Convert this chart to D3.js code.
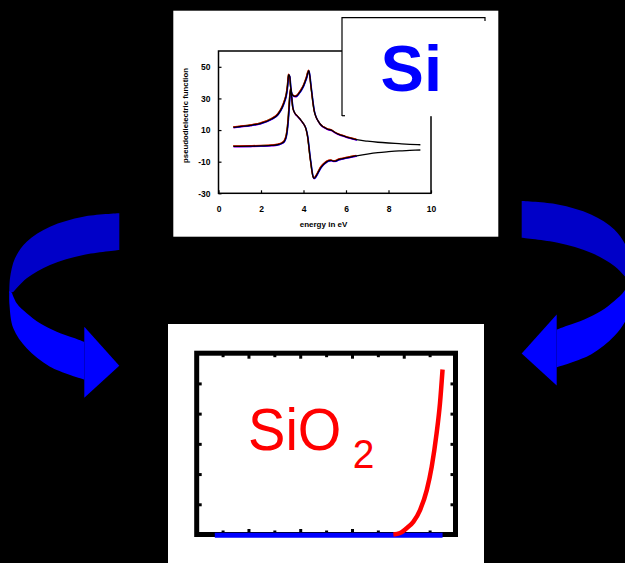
<!DOCTYPE html>
<html>
<head>
<meta charset="utf-8">
<script src="https://cdn.jsdelivr.net/npm/d3@7"></script>
<style>
  html, body { margin: 0; padding: 0; background: #000; }
  svg { display: block; }
  text { font-family: Arial, "Liberation Sans", sans-serif; }
</style>
</head>
<body>
<div id="chart"></div>
<script>
// ---- Si pseudodielectric function (top chart) ----
const energy = [0.7, 1.0, 1.5, 2.0, 2.5, 2.8, 3.0, 3.1, 3.2, 3.25, 3.3, 3.35, 3.4, 3.45, 3.5,
  3.6, 3.7, 3.8, 3.9, 4.0, 4.1, 4.15, 4.2, 4.25, 4.3, 4.35, 4.4, 4.45, 4.5, 4.6, 4.7, 4.8,
  4.9, 5.0, 5.1, 5.2, 5.3, 5.4, 5.5, 5.6, 5.8, 6.0, 6.25, 6.5, 7.0, 7.5, 8.0, 8.5, 9.0, 9.5];
const upperCurve = [11.7, 12.2, 13.0, 14.3, 17.0, 20.0, 24.5, 28, 33, 38, 45, 44, 37, 33, 32,
  31.3, 31.8, 33.5, 35.5, 38, 41.5, 43.5, 46, 47.5, 44, 38, 32.5, 27, 22.5, 18, 15.5, 13.5,
  12.3, 11.5, 10.8, 10.3, 10.0, 9.2, 8.3, 7.6, 6.6, 5.7, 4.8, 3.9, 3.0, 2.3, 1.8, 1.4, 1.0, 0.7];
const lowerCurve = [-0.3, -0.3, -0.2, 0, 0.3, 0.8, 1.8, 3, 7, 12, 20, 30, 36, 30, 24,
  20.5, 19, 17.5, 15.8, 14, 11.5, 9, 5.5, 0, -6, -11, -16, -19.5, -20.5, -19, -16.5, -14,
  -12.3, -11, -10, -9.4, -9.2, -9.6, -9.6, -9.0, -8.2, -7.6, -6.9, -6.3, -5.2, -4.3, -3.7, -3.2, -2.9, -2.6];
const siTicksX = [0, 2, 4, 6, 8, 10];
const siTicksY = [-30, -10, 10, 30, 50];
// measured traces lying under the black fit, only up to 6.5 eV
const traceColors = ['#ff00ff', '#00a000', '#0000ff', '#ff0000'];
const traceMaxEnergy = 6.5;

// ---- SiO2 (bottom chart) ----
const oxideEnergy = [7.6, 7.86, 8.1, 8.37, 8.63, 8.89, 9.08, 9.27, 9.4, 9.5];
const oxideValues = [0, 0.05, 0.2, 0.42, 0.81, 1.47, 2.24, 3.35, 4.34, 5.46];
const baseEnergy = [0.7, 9.5];
const baseValues = [0, 0];
const oxideMajorTicks = [2, 4, 6, 8];
const oxideMinorTicks = [1, 3, 5, 7, 9];
const oxideTicksY = [1, 2, 3, 4, 5];

const width = 625;
const height = 563;

const svg = d3.select('#chart')
    .append('svg')
    .attr('width', width)
    .attr('height', height);

svg.append('rect')
    .attr('width', width)
    .attr('height', height)
    .attr('fill', '#000');

// ---------- curved arrows ----------
const edge = d3.line().curve(d3.curveCatmullRom.alpha(0.5));
function ribbon(outer, inner) {
    return edge(outer) + 'L' + edge(inner.slice().reverse()).slice(1) + 'Z';
}
const backOuter = [[119.3, 213.3], [83.3, 216.7], [50, 226.7], [26.7, 241.7], [15, 258.3], [10, 278.3], [9.3, 293]];
const backInner = [[119.3, 250], [83.3, 255], [50, 265], [26.7, 278.3], [13.3, 292]];
const frontOuter = [[9.3, 291], [9.5, 305], [13.3, 328.3], [26.7, 348.3], [50, 366.7], [84.3, 379.5]];
const frontInner = [[12, 293], [16.7, 303.3], [26.7, 313.3], [40, 323.3], [56.7, 331.7], [73.3, 337.7], [84.3, 341.8]];
const head = [[84.3, 326.7], [119.3, 365.7], [84.3, 397.7]];

function drawArrow(g) {
    g.append('path').attr('d', ribbon(backOuter, backInner)).attr('fill', '#0000c8');
    g.append('path').attr('d', ribbon(frontOuter, frontInner)).attr('fill', '#0000ff');
    g.append('path').attr('d', d3.line()(head) + 'Z').attr('fill', '#0000ff');
}
drawArrow(svg.append('g'));
drawArrow(svg.append('g').attr('transform', 'translate(641,-12.3) scale(-1,1)'));

// ---------- top panel (Si) ----------
svg.append('rect')
    .attr('x', 173.3).attr('y', 10.7)
    .attr('width', 325).attr('height', 226)
    .attr('fill', '#fff');

const x = d3.scaleLinear().domain([0, 10]).range([218.5, 431]);
const y = d3.scaleLinear().domain([-30, 60]).range([193.3, 51]);

const topPanel = svg.append('g');

topPanel.append('rect')
    .attr('x', x(0)).attr('y', y(60))
    .attr('width', x(10) - x(0)).attr('height', y(-30) - y(60))
    .attr('fill', 'none')
    .attr('stroke', '#000')
    .attr('stroke-width', 1.5);

const yAxis = topPanel.append('g')
    .attr('transform', `translate(${x(0)},0)`)
    .call(d3.axisLeft(y).tickValues(siTicksY).tickSize(-3).tickSizeOuter(0)
        .tickPadding(8).tickFormat(d => String(d)));
const xAxis = topPanel.append('g')
    .attr('transform', `translate(0,${y(-30)})`)
    .call(d3.axisBottom(x).tickValues(siTicksX).tickSize(-3).tickSizeOuter(0)
        .tickPadding(13).tickFormat(d => String(d)));
[yAxis, xAxis].forEach(a => {
    a.select('.domain').remove();
    a.selectAll('line').attr('stroke', '#000').attr('stroke-width', 1.2);
    a.selectAll('text')
        .attr('fill', '#000')
        .style('font-size', '8.5px')
        .style('font-weight', 'bold')
        .style('font-family', 'Arial, "Liberation Sans", sans-serif');
});

topPanel.append('text')
    .attr('transform', 'translate(185.7,115.5) rotate(-90)')
    .attr('text-anchor', 'middle')
    .attr('dominant-baseline', 'central')
    .style('font-size', '7.8px')
    .style('font-weight', 'bold')
    .text('pseudodielectric function');

topPanel.append('text')
    .attr('x', 323.5).attr('y', 224.3)
    .attr('text-anchor', 'middle')
    .attr('dominant-baseline', 'central')
    .style('font-size', '8px')
    .style('font-weight', 'bold')
    .text('energy in eV');

// curves: coloured measurements first, black fit on top
const curve = values => d3.line()
    .x((d, i) => x(energy[i]))
    .y(d => y(d))
    .curve(d3.curveMonotoneX)(values);
const measured = values => d3.line()
    .defined((d, i) => energy[i] <= traceMaxEnergy)
    .x((d, i) => x(energy[i]))
    .y(d => y(d))
    .curve(d3.curveMonotoneX)(values);
const offsets = [[0, 0.6], [-0.3, -0.4], [0.4, 0.4], [-0.3, -0.6]];

traceColors.forEach((c, k) => {
    [upperCurve, lowerCurve].forEach(values => {
        topPanel.append('path')
            .attr('d', measured(values))
            .attr('transform', `translate(${offsets[k][0]},${offsets[k][1]})`)
            .attr('fill', 'none')
            .attr('stroke', c)
            .attr('stroke-width', 1.1);
    });
});
[upperCurve, lowerCurve].forEach(values => {
    topPanel.append('path')
        .attr('d', curve(values))
        .attr('fill', 'none')
        .attr('stroke', '#000')
        .attr('stroke-width', 1.3);
});

// overlapping white box with the "Si" label
topPanel.append('rect')
    .attr('x', 342).attr('y', 17.7)
    .attr('width', 143).attr('height', 98.5)
    .attr('fill', '#fff');
topPanel.append('path')
    .attr('d', 'M342,116V17.7H485V21')
    .attr('fill', 'none')
    .attr('stroke', '#000')
    .attr('stroke-width', 1.2);
topPanel.append('path')
    .attr('d', 'M342,115.7H345')
    .attr('stroke', '#000')
    .attr('stroke-width', 1.2);
topPanel.append('text')
    .attr('x', 411.3).attr('y', 91)
    .attr('text-anchor', 'middle')
    .attr('fill', '#0000ff')
    .style('font-size', '65px')
    .style('font-weight', 'bold')
    .text('Si');

// ---------- bottom panel (SiO2) ----------
svg.append('rect')
    .attr('x', 168).attr('y', 324)
    .attr('width', 316).attr('height', 239)
    .attr('fill', '#fff');

const x2 = d3.scaleLinear().domain([0, 10]).range([196.7, 455.5]);
const y2 = d3.scaleLinear().domain([0, 6]).range([534.5, 353.2]);

const bottomPanel = svg.append('g');

bottomPanel.append('rect')
    .attr('x', x2(0)).attr('y', y2(6))
    .attr('width', x2(10) - x2(0)).attr('height', y2(0) - y2(6))
    .attr('fill', 'none')
    .attr('stroke', '#000')
    .attr('stroke-width', 5);

// inward ticks on all four sides
function ticks(axis, transform) {
    const g = bottomPanel.append('g').attr('transform', transform).call(axis);
    g.select('.domain').remove();
    g.selectAll('text').remove();
    g.selectAll('line').attr('stroke', '#000').attr('stroke-width', 3);
}
ticks(d3.axisBottom(x2).tickValues(oxideMajorTicks).tickSize(-5.5).tickSizeOuter(0), `translate(0,${y2(0)})`);
ticks(d3.axisTop(x2).tickValues(oxideMajorTicks).tickSize(-5.5).tickSizeOuter(0), `translate(0,${y2(6)})`);
ticks(d3.axisBottom(x2).tickValues(oxideMinorTicks).tickSize(-4).tickSizeOuter(0), `translate(0,${y2(0)})`);
ticks(d3.axisTop(x2).tickValues(oxideMinorTicks).tickSize(-4).tickSizeOuter(0), `translate(0,${y2(6)})`);
ticks(d3.axisLeft(y2).tickValues(oxideTicksY).tickSize(-5).tickSizeOuter(0), `translate(${x2(0)},0)`);
ticks(d3.axisRight(y2).tickValues(oxideTicksY).tickSize(-5).tickSizeOuter(0), `translate(${x2(10)},0)`);

const line2 = (xs, ys) => d3.line()
    .x((d, i) => x2(xs[i]))
    .y(d => y2(d))
    .curve(d3.curveMonotoneX)(ys);

bottomPanel.append('path')
    .attr('d', line2(baseEnergy, baseValues))
    .attr('transform', 'translate(0,0.8)')
    .attr('fill', 'none')
    .attr('stroke', '#0000ff')
    .attr('stroke-width', 5);

bottomPanel.append('path')
    .attr('d', line2(oxideEnergy, oxideValues))
    .attr('fill', 'none')
    .attr('stroke', '#ff0000')
    .attr('stroke-width', 4.5);

// "SiO2" label, slightly condensed like the original
const label = bottomPanel.append('text')
    .attr('transform', 'translate(248,450) scale(0.95,1)')
    .attr('fill', '#ff0000')
    .style('font-size', '59px');
label.append('tspan').text('SiO');
label.append('tspan')
    .attr('dx', 12).attr('dy', 18)
    .style('font-size', '41px')
    .text('2');
</script>
</body>
</html>
